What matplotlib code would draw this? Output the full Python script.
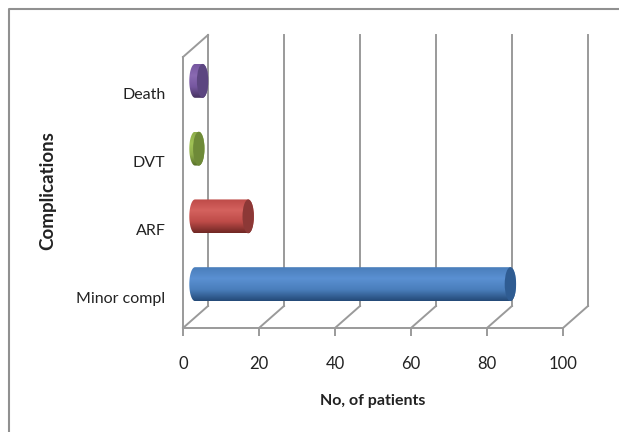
import matplotlib
matplotlib.use("Agg")
import matplotlib.pyplot as plt
import matplotlib.transforms as mtrans
from matplotlib.patches import Ellipse, PathPatch
from matplotlib.path import Path
import numpy as np

# 数据
categories = ["Minor compl", "ARF", "DVT", "Death"]
values = [83, 14, 1, 2]
x_ticks = [0, 20, 40, 60, 80, 100]

colors_top = ["#5a90d2", "#d4625e", "#a0c255", "#8a6ab2"]
colors_mid = ["#4a7ebb", "#be4b48", "#8fae4c", "#7657a0"]
colors_low = ["#244a78", "#702825", "#566f28", "#463360"]
colors_cap = ["#2f5c92", "#8c3836", "#6e8a38", "#5c4680"]

W, H = 619, 432
GRID = "#9a9a9a"
TEXT = "#222222"
plt.rcParams["font.family"] = ["Lato", "DejaVu Sans"]

fig = plt.figure(figsize=(W / 100, H / 100), dpi=100, facecolor="white")

# 画框, 只有左边和上边
frame = fig.add_axes([0, 0, 1, 1], zorder=0)
frame.set_xlim(0, W)
frame.set_ylim(H, 0)
frame.axis("off")
frame.plot([9, 9, W], [H, 8.5, 8.5], color="#909090", lw=1.5)

# 前面的坐标框: x 183..563, y 57..328 像素
ax = fig.add_axes([183 / W, 1 - 328 / H, 380 / W, 271 / H], zorder=1)
ax.set_xlim(0, 100)
ax.set_ylim(-0.5, 3.5)
ax.patch.set_alpha(0)
for s in ax.spines.values():
    s.set_visible(False)


def shifted(dx, dy):
    # 像素偏移(3D深度)
    return ax.transData + mtrans.Affine2D().translate(dx, dy)


DX, DY = 25, 22
back = shifted(DX, DY)
mid = shifted(12, 10)

# 网格线: 后墙竖线 + 地面斜线
for t in x_ticks:
    ax.plot([t, t], [-0.5, 3.5], color=GRID, lw=1.4, transform=back, clip_on=False, zorder=1)
    x0, y0 = ax.transData.transform((t, -0.5))
    x1, y1 = back.transform((t, -0.5))
    xs, ys = ax.transData.inverted().transform([(x0, y0), (x1, y1)]).T
    ax.plot(xs, ys, color=GRID, lw=1.4, clip_on=False, zorder=1)

# 左墙
ax.plot([0, 0], [-0.5, 3.5], color=GRID, lw=1.4, clip_on=False, zorder=1)
x0, y0 = ax.transData.transform((0, 3.5))
x1, y1 = back.transform((0, 3.5))
xs, ys = ax.transData.inverted().transform([(x0, y0), (x1, y1)]).T
ax.plot(xs, ys, color=GRID, lw=1.4, clip_on=False, zorder=1)
ax.plot([0, 100], [-0.5, -0.5], color=GRID, lw=1.4, clip_on=False, zorder=1)

# 圆柱
BAR_H = 0.5
CAP_W = 3.0  # 端面椭圆宽度(数据单位)
for i, v in enumerate(values):
    y0, y1 = i - BAR_H / 2, i + BAR_H / 2
    rx = CAP_W / 2
    # 圆柱身体: 左边半椭圆 + 矩形
    t = np.linspace(np.pi / 2, 3 * np.pi / 2, 30)
    left = np.column_stack([rx * np.cos(t), i + BAR_H / 2 * np.sin(t)])
    t2 = np.linspace(-np.pi / 2, np.pi / 2, 30)
    right = np.column_stack([v + rx * np.cos(t2), i + BAR_H / 2 * np.sin(t2)])
    body = Path(np.vstack([left, right, left[:1]]))
    clip = PathPatch(body, transform=mid, facecolor="none", edgecolor="none")
    ax.add_patch(clip)
    cmap = matplotlib.colors.LinearSegmentedColormap.from_list(
        "c", [colors_low[i], colors_mid[i], colors_top[i], colors_mid[i]]
    )
    grad = np.linspace(0, 1, 64).reshape(-1, 1)
    im = ax.imshow(grad, origin="lower", aspect="auto", cmap=cmap,
                   extent=(-rx, v + rx, y0, y1), transform=mid, zorder=3, interpolation="bilinear")
    im.set_clip_path(clip)
    cap = Ellipse((v, i), CAP_W, BAR_H, transform=mid, facecolor=colors_cap[i],
                  edgecolor="none", zorder=4, clip_on=False)
    ax.add_patch(cap)
ax.set_xlim(0, 100)
ax.set_ylim(-0.5, 3.5)

ax.set_xticks(x_ticks)
ax.set_yticks(range(len(categories)))
ax.set_yticklabels(categories)
ax.tick_params(axis="x", length=6, width=1.4, color=GRID, labelsize=12, labelcolor=TEXT, pad=14)
ax.tick_params(axis="y", length=0, labelsize=11.5, labelcolor=TEXT, pad=19)
for lab in ax.get_yticklabels():
    lab.set_transform(lab.get_transform() + mtrans.Affine2D().translate(9, -3))

fig.text(373 / W, 1 - 401 / H, "No, of patients", ha="center", va="center",
         fontsize=11.5, fontweight="bold", color=TEXT)
fig.text(48 / W, 1 - 191 / H, "Complications", ha="center", va="center", rotation=90,
         fontsize=13.5, fontweight="bold", color=TEXT)

fig.savefig("out.png", dpi=100, facecolor="white")
plt.close(fig)
